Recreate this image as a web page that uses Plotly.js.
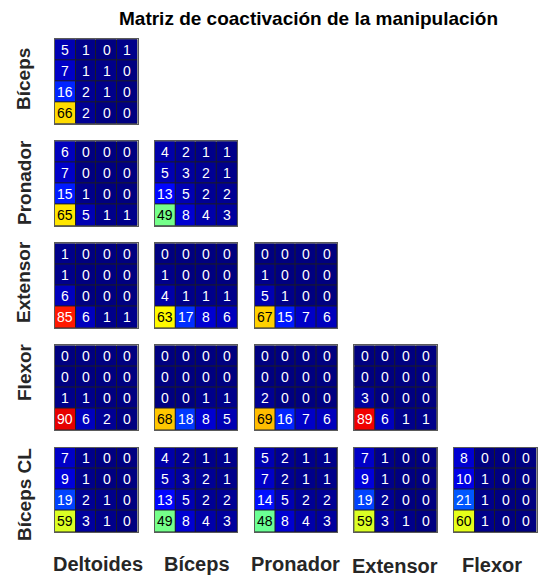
<!DOCTYPE html>
<html>
<head>
<meta charset="utf-8">
<script src="https://cdn.plot.ly/plotly-3.0.1.min.js"></script>
<style>html,body{margin:0;padding:0;background:#fff;}#chart{width:539px;height:578px;}</style>
</head>
<body>
<div id="chart"></div>
<script>
// ---- Data ----
const rowLabels = ["Bíceps", "Pronador", "Extensor", "Flexor", "Bíceps CL"];
const colLabels = ["Deltoides", "Bíceps", "Pronador", "Extensor", "Flexor"];
const chartTitle = "Matriz de coactivación de la manipulación";

// Row "Bíceps"
const biceps_deltoides = [[5,1,0,1],[7,1,1,0],[16,2,1,0],[66,2,0,0]];
// Row "Pronador"
const pronador_deltoides = [[6,0,0,0],[7,0,0,0],[15,1,0,0],[65,5,1,1]];
const pronador_biceps = [[4,2,1,1],[5,3,2,1],[13,5,2,2],[49,8,4,3]];
// Row "Extensor"
const extensor_deltoides = [[1,0,0,0],[1,0,0,0],[6,0,0,0],[85,6,1,1]];
const extensor_biceps = [[0,0,0,0],[1,0,0,0],[4,1,1,1],[63,17,8,6]];
const extensor_pronador = [[0,0,0,0],[1,0,0,0],[5,1,0,0],[67,15,7,6]];
// Row "Flexor"
const flexor_deltoides = [[0,0,0,0],[0,0,0,0],[1,1,0,0],[90,6,2,0]];
const flexor_biceps = [[0,0,0,0],[0,0,0,0],[0,0,1,1],[68,18,8,5]];
const flexor_pronador = [[0,0,0,0],[0,0,0,0],[2,0,0,0],[69,16,7,6]];
const flexor_extensor = [[0,0,0,0],[0,0,0,0],[3,0,0,0],[89,6,1,1]];
// Row "Bíceps CL"
const bicepsCL_deltoides = [[7,1,0,0],[9,1,0,0],[19,2,1,0],[59,3,1,0]];
const bicepsCL_biceps = [[4,2,1,1],[5,3,2,1],[13,5,2,2],[49,8,4,3]];
const bicepsCL_pronador = [[5,2,1,1],[7,2,1,1],[14,5,2,2],[48,8,4,3]];
const bicepsCL_extensor = [[7,1,0,0],[9,1,0,0],[19,2,0,0],[59,3,1,0]];
const bicepsCL_flexor = [[8,0,0,0],[10,1,0,0],[21,1,0,0],[60,1,0,0]];

const panels = [
  [biceps_deltoides],
  [pronador_deltoides, pronador_biceps],
  [extensor_deltoides, extensor_biceps, extensor_pronador],
  [flexor_deltoides, flexor_biceps, flexor_pronador, flexor_extensor],
  [bicepsCL_deltoides, bicepsCL_biceps, bicepsCL_pronador, bicepsCL_extensor, bicepsCL_flexor]
];

// ---- Layout geometry (pixels) ----
const W = 539, H = 578;
const colLeft0 = 55, colStep = 99.75, panelW = 82.5;
const rowTop0 = 39.3, rowStep = 102.05, panelH = 84.5;
const rowLabelY = [79, 183, 282, 372, 495];   // label centres (px), as placed in the reference
const colLabelShift = [2, 1, 0, -1, -3];       // small horizontal nudges (px)
const colLabelDrop = [0, 0, 0, 2.5, 1];        // small vertical nudges (px)
const FONT = "Liberation Sans, Arial, Helvetica, sans-serif";

const jet = [
  [0, 'rgb(0,0,128)'], [0.125, 'rgb(0,0,255)'], [0.375, 'rgb(0,255,255)'],
  [0.625, 'rgb(255,255,0)'], [0.875, 'rgb(255,0,0)'], [1, 'rgb(128,0,0)']
];

const data = [];
const layout = {
  width: W, height: H,
  margin: {l: 0, r: 0, t: 0, b: 0},
  paper_bgcolor: '#ffffff',
  plot_bgcolor: '#1c1c24',
  showlegend: false,
  font: {family: FONT},
  annotations: []
};

let k = 0;
panels.forEach((row, r) => {
  row.forEach((mat, c) => {
    k++;
    const xs = k === 1 ? '' : String(k);
    const left = colLeft0 + c * colStep;
    const top = rowTop0 + r * rowStep;
    const idx = [0, 1, 2, 3];
    data.push({
      type: 'heatmap',
      z: mat, x: idx, y: idx,
      xaxis: 'x' + xs, yaxis: 'y' + xs,
      colorscale: jet, zmin: 0, zmax: 100,
      showscale: false, xgap: 1, ygap: 1,
      hoverinfo: 'z'
    });
    const axCommon = {
      showticklabels: false, showgrid: false, zeroline: false, ticks: '',
      showline: true, mirror: true, linecolor: '#5a5a5a', linewidth: 1,
      fixedrange: true
    };
    layout['xaxis' + xs] = Object.assign({}, axCommon, {
      domain: [left / W, (left + panelW) / W],
      range: [-0.5, 3.5], anchor: 'y' + xs
    });
    layout['yaxis' + xs] = Object.assign({}, axCommon, {
      domain: [1 - (top + panelH) / H, 1 - top / H],
      range: [3.5, -0.5], anchor: 'x' + xs
    });
    mat.forEach((rowVals, i) => {
      rowVals.forEach((v, j) => {
        layout.annotations.push({
          xref: 'x' + xs, yref: 'y' + xs, x: j, y: i,
          text: String(v), showarrow: false,
          font: {size: 14, family: FONT, color: (v >= 40 && v <= 80) ? '#000000' : '#ffffff'},
          xanchor: 'center', yanchor: 'middle'
        });
      });
    });
  });
});

// Row labels
rowLabels.forEach((lab, r) => {
  layout.annotations.push({
    xref: 'paper', yref: 'paper', x: 24 / W, y: 1 - rowLabelY[r] / H,
    text: '<b>' + lab + '</b>', showarrow: false, textangle: -90,
    xanchor: 'center', yanchor: 'middle',
    font: {size: 19, family: FONT, color: '#262626'}
  });
});
// Column labels
colLabels.forEach((lab, c) => {
  const cx = colLeft0 + c * colStep + panelW / 2 + colLabelShift[c];
  layout.annotations.push({
    xref: 'paper', yref: 'paper', x: cx / W, y: 1 - (563.5 + colLabelDrop[c]) / H,
    text: '<b>' + lab + '</b>', showarrow: false,
    xanchor: 'center', yanchor: 'middle',
    font: {size: 20, family: FONT, color: '#262626'}
  });
});
// Title
layout.annotations.push({
  xref: 'paper', yref: 'paper', x: 308.5 / W, y: 1 - 18.5 / H,
  text: '<b>' + chartTitle + '</b>', showarrow: false,
  xanchor: 'center', yanchor: 'middle',
  font: {size: 19, family: FONT, color: '#000000'}
});

Plotly.newPlot('chart', data, layout, {displayModeBar: false, staticPlot: true});
</script>
</body>
</html>
